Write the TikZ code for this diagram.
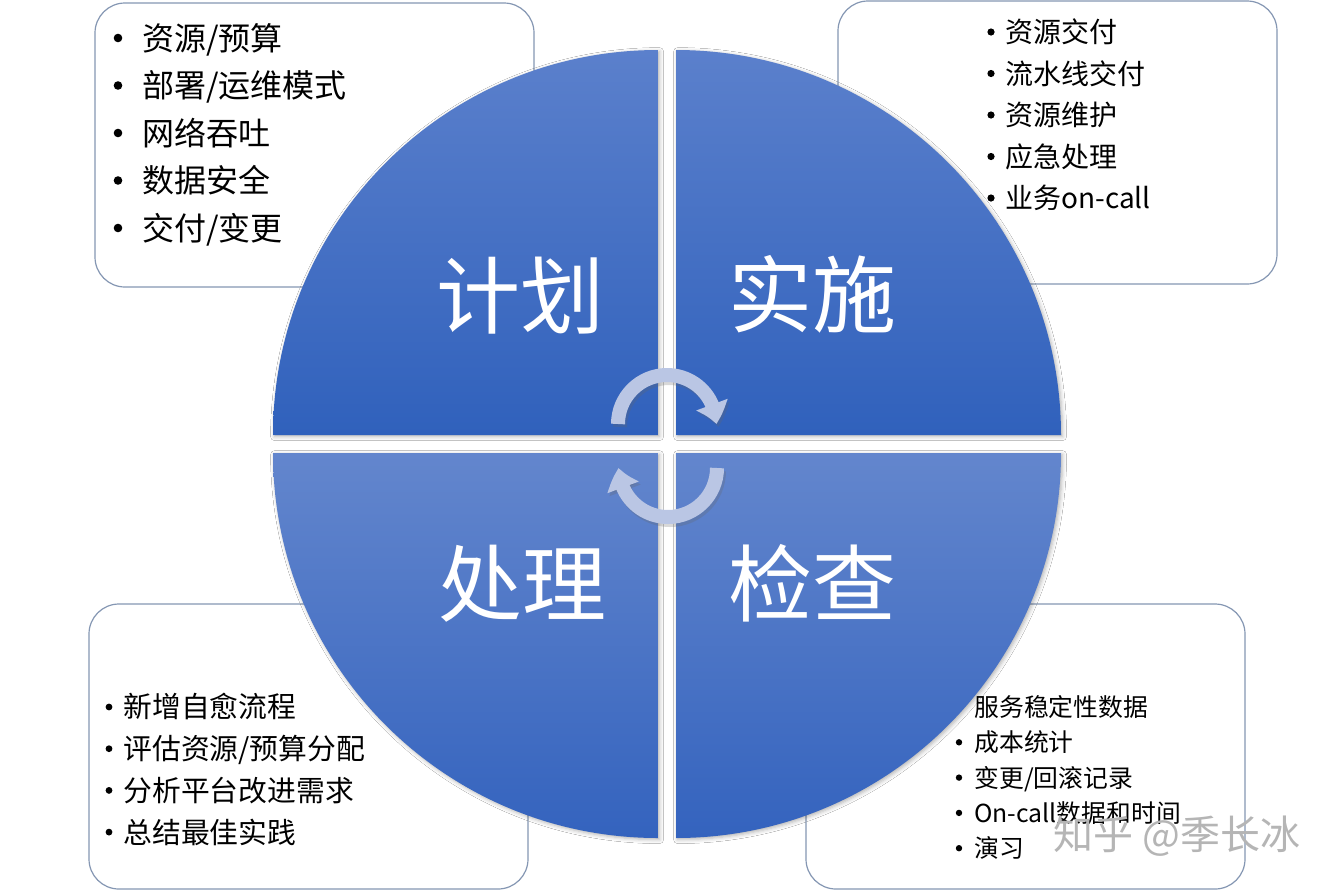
\documentclass[tikz,border=0pt]{standalone}
\usepackage{fontspec}
\setmainfont{Noto Sans CJK SC}
\usetikzlibrary{arrows.meta,bending,shadows.blur}
\definecolor{qtop}{HTML}{5B80CC}
\definecolor{qbot}{HTML}{3061BC}
\definecolor{qtopb}{HTML}{6386CD}
\definecolor{qbotb}{HTML}{3463BE}
\definecolor{boxline}{HTML}{8597B3}
\definecolor{arrowc}{HTML}{BAC6E4}
\definecolor{wmark}{HTML}{B5B5B5}
\begin{document}
\begin{tikzpicture}[x=0.5pt,y=-0.5pt,
  infobox/.style={draw=boxline, line width=0.6pt, fill=white, rounded corners=15pt},
  quadtop/.style={top color=qtop, bottom color=qbot, draw=none,
    blur shadow={shadow xshift=0.8pt,shadow yshift=-0.8pt,shadow blur radius=2pt,shadow opacity=30}},
  quadbot/.style={top color=qtopb, bottom color=qbotb, draw=none,
    blur shadow={shadow xshift=0.8pt,shadow yshift=-0.8pt,shadow blur radius=2pt,shadow opacity=30}},
  title/.style={text=white, font=\fontsize{42}{42}\selectfont, anchor=base, inner sep=0pt},
  item/.style={anchor=base west, inner sep=0pt, text=black},
  bul/.style={circle, fill=black, inner sep=0pt},
  cyc/.style={draw=arrowc, line width=7pt, -{Triangle[width=16pt,length=10pt,bend]}},
  cycshadow/.style={draw=black!60, opacity=0.25, line width=7pt, -{Triangle[width=16pt,length=10pt,bend]}}]
\useasboundingbox[fill=white] (0,0) rectangle (1334,890);

% ---- info boxes (behind the circle)
\draw[infobox] (95,3) rectangle (534,287);
\draw[infobox] (838,1) rectangle (1277,284);
\draw[infobox] (89,604) rectangle (528,889);
\draw[infobox] (806,604) rectangle (1245,889);

% top-left list
\foreach \t [count=\i from 0] in {资源/预算,部署/运维模式,网络吞吐,数据安全,交付/变更}{
  \node[bul, minimum size=4.3pt] (tlb\i) at (118,{38+47.5*\i}) {};
  \node[item, font=\fontsize{16}{18}\selectfont] (tl\i) at (142,{50+47.5*\i}) {\t};
}
% top-right list
\foreach \t [count=\i from 0] in {资源交付,流水线交付,资源维护,应急处理,业务on-call}{
  \node[bul, minimum size=3.6pt] (trb\i) at (991,{32+41.5*\i}) {};
  \node[item, font=\fontsize{14}{16}\selectfont] (tr\i) at (1005,{42.6+41.5*\i}) {\t};
}
% bottom-left list
\foreach \t [count=\i from 0] in {新增自愈流程,评估资源/预算分配,分析平台改进需求,总结最佳实践}{
  \node[bul, minimum size=3.4pt] (blb\i) at (109,{707+41.7*\i}) {};
  \node[item, font=\fontsize{14.4}{16}\selectfont] (bl\i) at (123,{717.9+41.7*\i}) {\t};
}
% bottom-right list
\node[item, font=\fontsize{12.4}{14}\selectfont] (br0) at (974,716.4) {服务稳定性数据};
\foreach \t [count=\i from 1] in {成本统计,变更/回滚记录,On-call数据和时间,演习}{
  \node[bul, minimum size=3.2pt] (brb\i) at (959,{707+35.3*\i}) {};
  \node[item, font=\fontsize{12.4}{14}\selectfont] (br\i) at (974,{716.4+35.3*\i}) {\t};
}

% ---- the four quadrants
\path[quadtop] (658,435) -- (273,435) arc[start angle=180,end angle=270,radius=385] -- cycle;
\path[quadtop] (676,435) -- (676,50) arc[start angle=270,end angle=360,radius=385] -- cycle;
\path[quadbot] (676,453) -- (1061,453) arc[start angle=0,end angle=90,radius=385] -- cycle;
\path[quadbot] (658,453) -- (658,838) arc[start angle=90,end angle=180,radius=385] -- cycle;

% titles
\node[title] (plan) at (520,327) {计划};
\node[title] (do) at (812,326) {实施};
\node[title] (act) at (522,615) {处理};
\node[title] (check) at (812,615) {检查};

% ---- cycle arrows
\coordinate (c1) at (667,424);
\coordinate (c2) at (668,468);
\draw[cycshadow] ([shift={(2,3)}]c1) ++(180:49) arc[start angle=180,end angle=360,radius=49];
\draw[cyc] (c1) ++(180:49) arc[start angle=180,end angle=360,radius=49];
\draw[cycshadow] ([shift={(2,3)}]c2) ++(0:49) arc[start angle=0,end angle=180,radius=49];
\draw[cyc] (c2) ++(0:49) arc[start angle=0,end angle=180,radius=49];

% watermark
\node[anchor=base west, inner sep=0pt, text=wmark, font=\fontsize{20}{22}\selectfont] (wm) at (1053,849) {知乎 @季长冰};
\end{tikzpicture}
\end{document}
